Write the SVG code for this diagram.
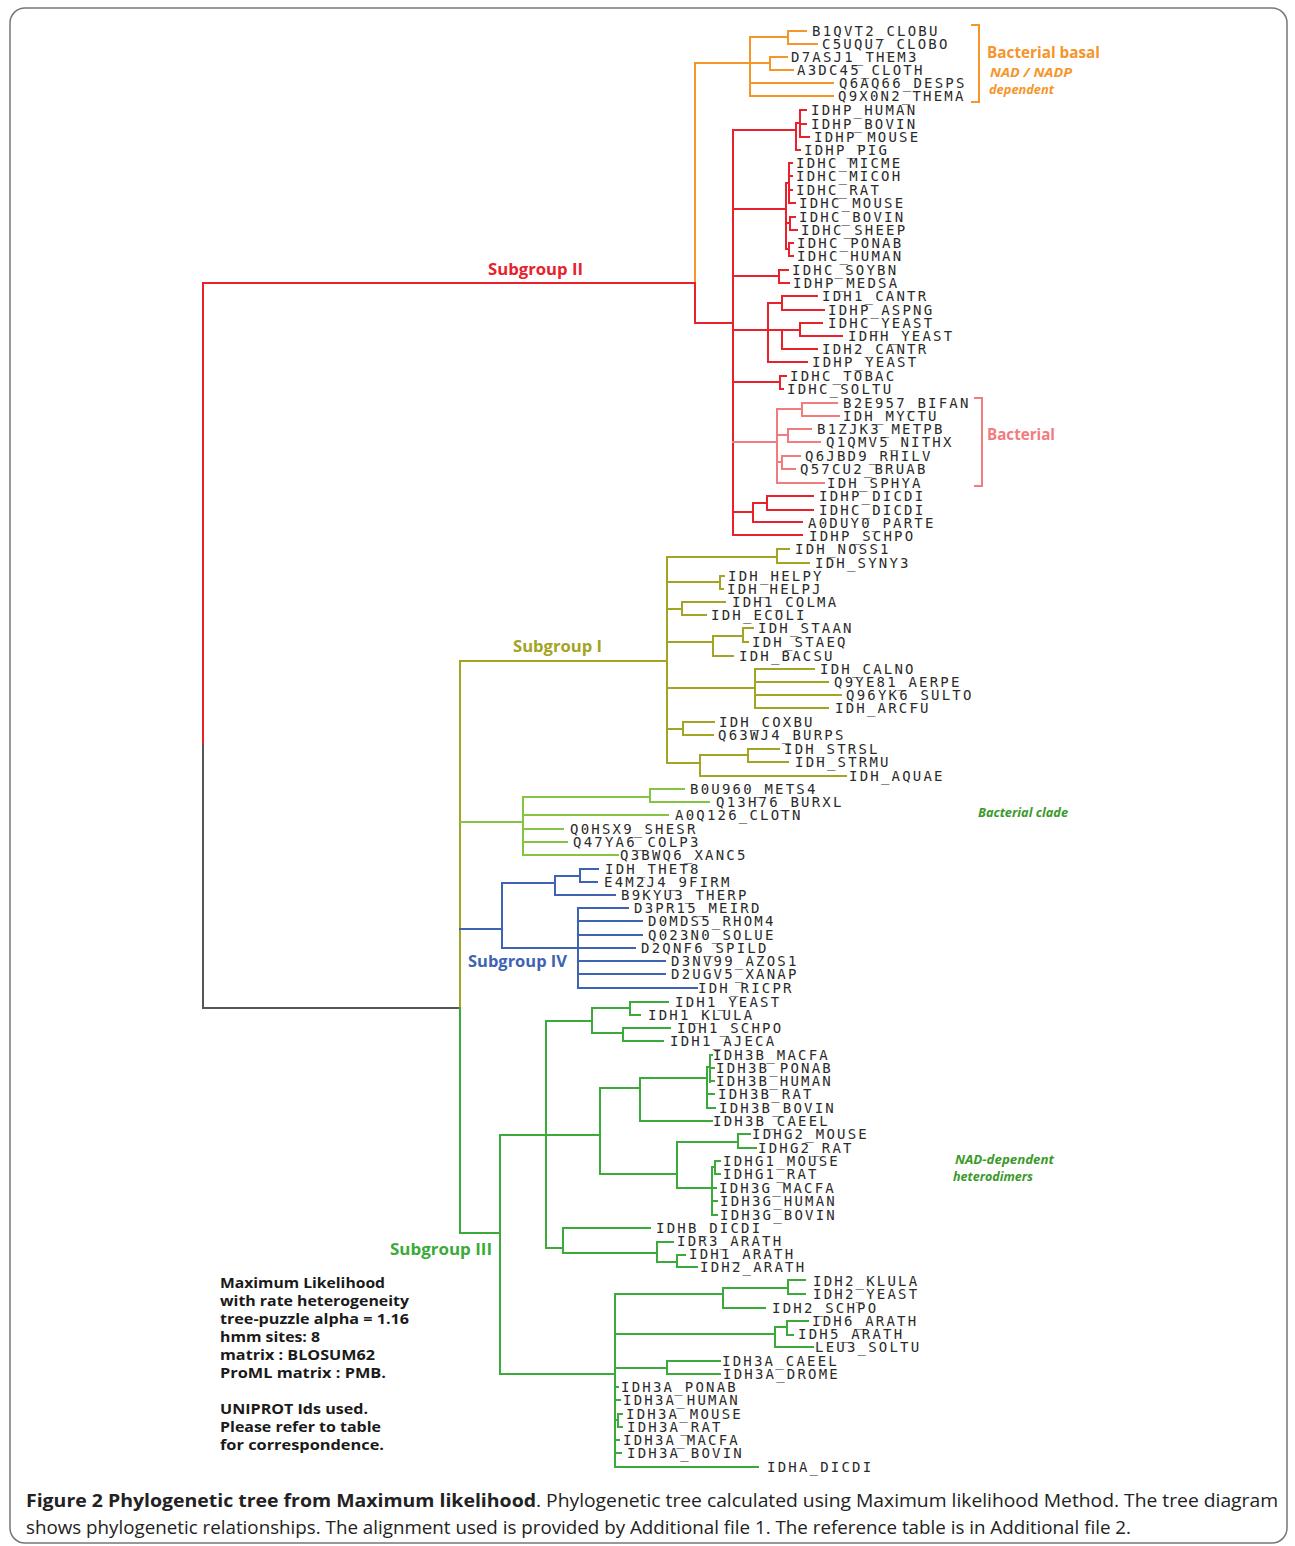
<svg xmlns="http://www.w3.org/2000/svg" width="1295" height="1546" viewBox="0 0 1295 1546">
<style>
.l{font-family:"DejaVu Sans Mono","Liberation Mono",monospace;font-size:14px;letter-spacing:2.2px;fill:#2a2a2a}
.e{fill:none;stroke-width:2;stroke-linecap:square}
.or{stroke:#f5952a}.rd{stroke:#e8212b}.lr{stroke:#f27b7e}.ol{stroke:#a3a324}.lg{stroke:#84c440}.bl{stroke:#3e63b2}.gr{stroke:#3aab3a}.gy{stroke:#555}
.sg{font-family:"Open Sans","Noto Sans",sans-serif;font-weight:bold;font-size:16px}
.nt{font-family:"Open Sans","Noto Sans",sans-serif;font-style:italic;font-weight:bold;font-size:13px}
.bx{font-family:"Open Sans","Noto Sans",sans-serif;font-weight:bold;font-size:15px;fill:#1a1a1a}
.cap{font-family:"Open Sans","Noto Sans",sans-serif;font-size:18px;fill:#222}
</style>
<rect x="10" y="8" width="1277" height="1535" rx="15" fill="#fff" stroke="#777" stroke-width="1.5"/>
<g id="connectors">
<path class="e or" d="M695 283V63H750M750 37V96M750 37H788M788 31V44M788 31H806M788 44H817M750 63H770M770 57V70M770 57H787M770 70H793M750 83H833M750 96H833"/>
<path class="e or" d="M972 25H979V102H972" stroke-width="3.5"/>
<path class="e rd" d="M203 745V283H695V323H733M733 130V535M733 130H796M796 123V150M796 123H800M800 110V137M800 110H806M800 124H806M800 137H809M796 150H800M733 209H786M786 183V249M786 183H789M789 163V203M789 163H792M789 176H792M789 190H792M789 203H795M786 223H790M790 217V230M790 217H795M790 230H797M786 249H789M789 243V256M789 243H793M789 256H793M733 276H779M779 270V283M779 270H788M779 283H789M733 330H768M768 303V362M768 303H782M782 296V310M782 296H817M782 310H824M768 330H782M782 330V349M782 330H800M800 323V336M800 323H822M800 336H842M782 349H817M768 362H807M733 382H780M780 376V389M780 376H786M780 389H783M733 512H753M753 503V522M753 503H767M767 496V510M767 496H813M767 510H813M753 522H802M733 535H802"/>
<path class="e lr" d="M733 442H777M777 409V483M777 409H802M802 403V416M802 403H837M802 416H839M777 435H788M788 429V442M788 429H811M788 442H820M777 462H782M782 456V469M782 456H800M782 469H795M777 483H824"/>
<path class="e lr" d="M975 398H982V486H975" stroke-width="3.5"/>
<path class="e gy" d="M203 745V1008H460"/>
<path class="e ol" d="M460 1008V661H667M667 557V763M667 557H777M777 549V563M777 549H789M777 563H809M667 582H720M720 576V589M720 576H724M720 589H723M667 609H682M682 602V615M682 602H725M682 615H706M667 642H713M713 636V656M713 636H743M743 628V642M743 628H753M743 642H748M713 656H733M667 688H755M755 669V708M755 669H814M755 682H828M755 695H841M755 708H828M667 729H683M683 722V735M683 722H714M683 735H713M667 763H700M700 755V776M700 755H748M748 749V762M748 749H779M748 762H788M700 776H846"/>
<path class="e lg" d="M460 822H523M523 797V855M523 797H650M650 789V802M650 789H684M650 802H709M523 815H668M523 829H563M523 842H567M523 855H618"/>
<path class="e bl" d="M460 929H502M502 883V948M502 883H555M555 876V895M555 876H580M580 869V882M580 869H598M580 882H597M555 895H615M502 948H578M578 908V988M578 908H628M578 921H642M578 935H642M578 948H635M578 961H665M578 974H665M578 988H697"/>
<path class="e gr" d="M460 1008V1233H500M500 1135V1374M500 1135H600M546 1021V1248M546 1021H592M592 1008V1033M592 1008H630M630 1002V1015M630 1002H668M630 1015H640M592 1033H623M623 1028V1041M623 1028H670M623 1041H663M600 1088V1174M600 1088H640M640 1078V1121M640 1078H707M707 1067V1108M707 1067H710M710 1055V1082M710 1055H712M710 1068H714M710 1081H714M707 1094H714M707 1108H715M640 1121H712M600 1174H677M677 1142V1188M677 1142H738M738 1134V1148M738 1134H750M738 1148H756M677 1188H712M712 1167V1215M712 1167H715M715 1161V1174M715 1161H720M715 1174H720M712 1188H716M712 1201H717M712 1215H717M546 1248H563M563 1228V1253M563 1228H650M563 1253H657M657 1242V1262M657 1242H673M657 1262H677M677 1255V1267M677 1255H685M677 1267H697M500 1374H615M615 1294V1467M615 1294H723M723 1288V1308M723 1288H788M788 1280V1294M788 1280H805M788 1294H805M723 1308H765M615 1334H775M775 1327V1347M775 1327H787M787 1321V1335M787 1321H808M787 1335H793M775 1347H813M615 1368H667M667 1361V1374M667 1361H720M667 1374H720M615 1387H618M615 1400H620M615 1420H618M618 1414V1427M618 1414H622M618 1427H622M615 1440H619M615 1453H621M615 1467H758"/>
</g>
<g id="group-labels">
<g id="lbl-sg2"><text class="sg" x="488" y="275" fill="#e8212b" textLength="95" lengthAdjust="spacingAndGlyphs">Subgroup II</text></g>
<g id="lbl-sg1"><text class="sg" x="513" y="652" fill="#a3a324" textLength="89" lengthAdjust="spacingAndGlyphs">Subgroup I</text></g>
<g id="lbl-sg4"><text class="sg" x="468" y="967" fill="#3e63b2" textLength="99" lengthAdjust="spacingAndGlyphs">Subgroup IV</text></g>
<g id="lbl-sg3"><text class="sg" x="390" y="1255" fill="#3aab3a" textLength="102" lengthAdjust="spacingAndGlyphs">Subgroup III</text></g>
<g id="lbl-basal"><text class="sg" x="987" y="58" fill="#f5952a" font-size="15" textLength="113" lengthAdjust="spacingAndGlyphs">Bacterial basal</text>
<text class="nt" x="990" y="77" fill="#f5952a" font-weight="normal" textLength="82" lengthAdjust="spacingAndGlyphs">NAD / NADP</text>
<text class="nt" x="989" y="94" fill="#f5952a" font-weight="normal" font-size="12" textLength="65" lengthAdjust="spacingAndGlyphs">dependent</text></g>
<g id="lbl-bact"><text class="sg" x="987" y="440" fill="#f27b7e" font-size="15" font-weight="normal" textLength="68" lengthAdjust="spacingAndGlyphs">Bacterial</text></g>
<g id="lbl-bclade"><text class="nt" x="978" y="817" fill="#3a9a2a" textLength="90" lengthAdjust="spacingAndGlyphs">Bacterial clade</text></g>
<g id="lbl-nad"><text class="nt" x="955" y="1164" fill="#3a9a2a" textLength="99" lengthAdjust="spacingAndGlyphs">NAD-dependent</text>
<text class="nt" x="953" y="1181" fill="#3a9a2a" textLength="80" lengthAdjust="spacingAndGlyphs">heterodimers</text></g>
</g>
<g id="leaves">
<g id="n1"><text class="l" x="812" y="36">B1QVT2_CLOBU</text></g>
<g id="n2"><text class="l" x="822" y="49">C5UQU7_CLOBO</text></g>
<g id="n3"><text class="l" x="791" y="62">D7ASJ1_THEM3</text></g>
<g id="n4"><text class="l" x="797" y="75">A3DC45_CLOTH</text></g>
<g id="n5"><text class="l" x="839" y="88">Q6AQ66_DESPS</text></g>
<g id="n6"><text class="l" x="838" y="101">Q9X0N2_THEMA</text></g>
<g id="n7"><text class="l" x="811" y="115">IDHP_HUMAN</text></g>
<g id="n8"><text class="l" x="811" y="129">IDHP_BOVIN</text></g>
<g id="n9"><text class="l" x="814" y="142">IDHP_MOUSE</text></g>
<g id="n10"><text class="l" x="804" y="155">IDHP_PIG</text></g>
<g id="n11"><text class="l" x="796" y="168">IDHC_MICME</text></g>
<g id="n12"><text class="l" x="796" y="181">IDHC_MICOH</text></g>
<g id="n13"><text class="l" x="796" y="195">IDHC_RAT</text></g>
<g id="n14"><text class="l" x="799" y="208">IDHC_MOUSE</text></g>
<g id="n15"><text class="l" x="799" y="222">IDHC_BOVIN</text></g>
<g id="n16"><text class="l" x="801" y="235">IDHC_SHEEP</text></g>
<g id="n17"><text class="l" x="797" y="248">IDHC_PONAB</text></g>
<g id="n18"><text class="l" x="797" y="261">IDHC_HUMAN</text></g>
<g id="n19"><text class="l" x="792" y="275">IDHC_SOYBN</text></g>
<g id="n20"><text class="l" x="793" y="288">IDHP_MEDSA</text></g>
<g id="n21"><text class="l" x="822" y="301">IDH1_CANTR</text></g>
<g id="n22"><text class="l" x="828" y="315">IDHP_ASPNG</text></g>
<g id="n23"><text class="l" x="828" y="328">IDHC_YEAST</text></g>
<g id="n24"><text class="l" x="848" y="341">IDHH_YEAST</text></g>
<g id="n25"><text class="l" x="822" y="354">IDH2_CANTR</text></g>
<g id="n26"><text class="l" x="812" y="367">IDHP_YEAST</text></g>
<g id="n27"><text class="l" x="790" y="381">IDHC_TOBAC</text></g>
<g id="n28"><text class="l" x="787" y="394">IDHC_SOLTU</text></g>
<g id="n29"><text class="l" x="843" y="408">B2E957_BIFAN</text></g>
<g id="n30"><text class="l" x="843" y="421">IDH_MYCTU</text></g>
<g id="n31"><text class="l" x="817" y="434">B1ZJK3_METPB</text></g>
<g id="n32"><text class="l" x="826" y="447">Q1QMV5_NITHX</text></g>
<g id="n33"><text class="l" x="805" y="461">Q6JBD9_RHILV</text></g>
<g id="n34"><text class="l" x="800" y="474">Q57CU2_BRUAB</text></g>
<g id="n35"><text class="l" x="827" y="488">IDH_SPHYA</text></g>
<g id="n36"><text class="l" x="819" y="501">IDHP_DICDI</text></g>
<g id="n37"><text class="l" x="819" y="515">IDHC_DICDI</text></g>
<g id="n38"><text class="l" x="808" y="528">A0DUY0_PARTE</text></g>
<g id="n39"><text class="l" x="809" y="541">IDHP_SCHPO</text></g>
<g id="n40"><text class="l" x="795" y="554">IDH_NOSS1</text></g>
<g id="n41"><text class="l" x="815" y="568">IDH_SYNY3</text></g>
<g id="n42"><text class="l" x="728" y="581">IDH_HELPY</text></g>
<g id="n43"><text class="l" x="727" y="594">IDH_HELPJ</text></g>
<g id="n44"><text class="l" x="732" y="607">IDH1_COLMA</text></g>
<g id="n45"><text class="l" x="711" y="620">IDH_ECOLI</text></g>
<g id="n46"><text class="l" x="758" y="633">IDH_STAAN</text></g>
<g id="n47"><text class="l" x="752" y="647">IDH_STAEQ</text></g>
<g id="n48"><text class="l" x="739" y="661">IDH_BACSU</text></g>
<g id="n49"><text class="l" x="820" y="674">IDH_CALNO</text></g>
<g id="n50"><text class="l" x="834" y="687">Q9YE81_AERPE</text></g>
<g id="n51"><text class="l" x="846" y="700">Q96YK6_SULTO</text></g>
<g id="n52"><text class="l" x="835" y="713">IDH_ARCFU</text></g>
<g id="n53"><text class="l" x="719" y="727">IDH_COXBU</text></g>
<g id="n54"><text class="l" x="718" y="740">Q63WJ4_BURPS</text></g>
<g id="n55"><text class="l" x="784" y="754">IDH_STRSL</text></g>
<g id="n56"><text class="l" x="795" y="767">IDH_STRMU</text></g>
<g id="n57"><text class="l" x="849" y="781">IDH_AQUAE</text></g>
<g id="n58"><text class="l" x="690" y="794">B0U960_METS4</text></g>
<g id="n59"><text class="l" x="716" y="807">Q13H76_BURXL</text></g>
<g id="n60"><text class="l" x="675" y="820">A0Q126_CLOTN</text></g>
<g id="n61"><text class="l" x="570" y="834">Q0HSX9_SHESR</text></g>
<g id="n62"><text class="l" x="573" y="847">Q47YA6_COLP3</text></g>
<g id="n63"><text class="l" x="620" y="860">Q3BWQ6_XANC5</text></g>
<g id="n64"><text class="l" x="605" y="874">IDH_THET8</text></g>
<g id="n65"><text class="l" x="604" y="887">E4M2J4_9FIRM</text></g>
<g id="n66"><text class="l" x="621" y="900">B9KYU3_THERP</text></g>
<g id="n67"><text class="l" x="634" y="913">D3PR15_MEIRD</text></g>
<g id="n68"><text class="l" x="648" y="926">D0MDS5_RHOM4</text></g>
<g id="n69"><text class="l" x="648" y="940">Q023N0_SOLUE</text></g>
<g id="n70"><text class="l" x="641" y="953">D2QNF6_SPILD</text></g>
<g id="n71"><text class="l" x="671" y="966">D3NV99_AZOS1</text></g>
<g id="n72"><text class="l" x="671" y="979">D2UGV5_XANAP</text></g>
<g id="n73"><text class="l" x="698" y="993">IDH_RICPR</text></g>
<g id="n74"><text class="l" x="675" y="1007">IDH1_YEAST</text></g>
<g id="n75"><text class="l" x="648" y="1020">IDH1_KLULA</text></g>
<g id="n76"><text class="l" x="677" y="1033">IDH1_SCHPO</text></g>
<g id="n77"><text class="l" x="670" y="1046">IDH1_AJECA</text></g>
<g id="n78"><text class="l" x="713" y="1060">IDH3B_MACFA</text></g>
<g id="n79"><text class="l" x="716" y="1073">IDH3B_PONAB</text></g>
<g id="n80"><text class="l" x="716" y="1086">IDH3B_HUMAN</text></g>
<g id="n81"><text class="l" x="718" y="1099">IDH3B_RAT</text></g>
<g id="n82"><text class="l" x="719" y="1113">IDH3B_BOVIN</text></g>
<g id="n83"><text class="l" x="713" y="1126">IDH3B_CAEEL</text></g>
<g id="n84"><text class="l" x="752" y="1139">IDHG2_MOUSE</text></g>
<g id="n85"><text class="l" x="758" y="1153">IDHG2_RAT</text></g>
<g id="n86"><text class="l" x="723" y="1166">IDHG1_MOUSE</text></g>
<g id="n87"><text class="l" x="723" y="1179">IDHG1_RAT</text></g>
<g id="n88"><text class="l" x="719" y="1193">IDH3G_MACFA</text></g>
<g id="n89"><text class="l" x="720" y="1206">IDH3G_HUMAN</text></g>
<g id="n90"><text class="l" x="720" y="1220">IDH3G_BOVIN</text></g>
<g id="n91"><text class="l" x="656" y="1233">IDHB_DICDI</text></g>
<g id="n92"><text class="l" x="677" y="1246">IDR3_ARATH</text></g>
<g id="n93"><text class="l" x="689" y="1259">IDH1_ARATH</text></g>
<g id="n94"><text class="l" x="700" y="1272">IDH2_ARATH</text></g>
<g id="n95"><text class="l" x="813" y="1286">IDH2_KLULA</text></g>
<g id="n96"><text class="l" x="813" y="1299">IDH2_YEAST</text></g>
<g id="n97"><text class="l" x="772" y="1313">IDH2_SCHPO</text></g>
<g id="n98"><text class="l" x="812" y="1326">IDH6_ARATH</text></g>
<g id="n99"><text class="l" x="798" y="1339">IDH5_ARATH</text></g>
<g id="n100"><text class="l" x="815" y="1352">LEU3_SOLTU</text></g>
<g id="n101"><text class="l" x="722" y="1366">IDH3A_CAEEL</text></g>
<g id="n102"><text class="l" x="723" y="1379">IDH3A_DROME</text></g>
<g id="n103"><text class="l" x="621" y="1392">IDH3A_PONAB</text></g>
<g id="n104"><text class="l" x="623" y="1405">IDH3A_HUMAN</text></g>
<g id="n105"><text class="l" x="626" y="1419">IDH3A_MOUSE</text></g>
<g id="n106"><text class="l" x="627" y="1432">IDH3A_RAT</text></g>
<g id="n107"><text class="l" x="623" y="1445">IDH3A_MACFA</text></g>
<g id="n108"><text class="l" x="627" y="1458">IDH3A_BOVIN</text></g>
<g id="n109"><text class="l" x="767" y="1472">IDHA_DICDI</text></g>
</g>
<g id="method-box">
<text class="bx" x="220" y="1288" textLength="165" lengthAdjust="spacingAndGlyphs">Maximum Likelihood</text>
<text class="bx" x="220" y="1306" textLength="189" lengthAdjust="spacingAndGlyphs">with rate heterogeneity</text>
<text class="bx" x="220" y="1324" textLength="189" lengthAdjust="spacingAndGlyphs">tree-puzzle alpha = 1.16</text>
<text class="bx" x="220" y="1342" textLength="100" lengthAdjust="spacingAndGlyphs">hmm sites: 8</text>
<text class="bx" x="220" y="1360" textLength="155" lengthAdjust="spacingAndGlyphs">matrix : BLOSUM62</text>
<text class="bx" x="220" y="1378" textLength="166" lengthAdjust="spacingAndGlyphs">ProML matrix : PMB.</text>
<text class="bx" x="220" y="1414" textLength="148" lengthAdjust="spacingAndGlyphs">UNIPROT Ids used.</text>
<text class="bx" x="220" y="1432" textLength="161" lengthAdjust="spacingAndGlyphs">Please refer to table</text>
<text class="bx" x="220" y="1450" textLength="164" lengthAdjust="spacingAndGlyphs">for correspondence.</text>
</g>
<g id="caption">
<text class="cap" x="26" y="1507" font-weight="bold" fill="#111" textLength="510" lengthAdjust="spacingAndGlyphs">Figure 2 Phylogenetic tree from Maximum likelihood</text>
<text class="cap" x="536" y="1507" textLength="742" lengthAdjust="spacingAndGlyphs">. Phylogenetic tree calculated using Maximum likelihood Method. The tree diagram</text>
<text class="cap" x="26" y="1534" textLength="1105" lengthAdjust="spacingAndGlyphs">shows phylogenetic relationships. The alignment used is provided by Additional file 1. The reference table is in Additional file 2.</text>
</g>
</svg>
